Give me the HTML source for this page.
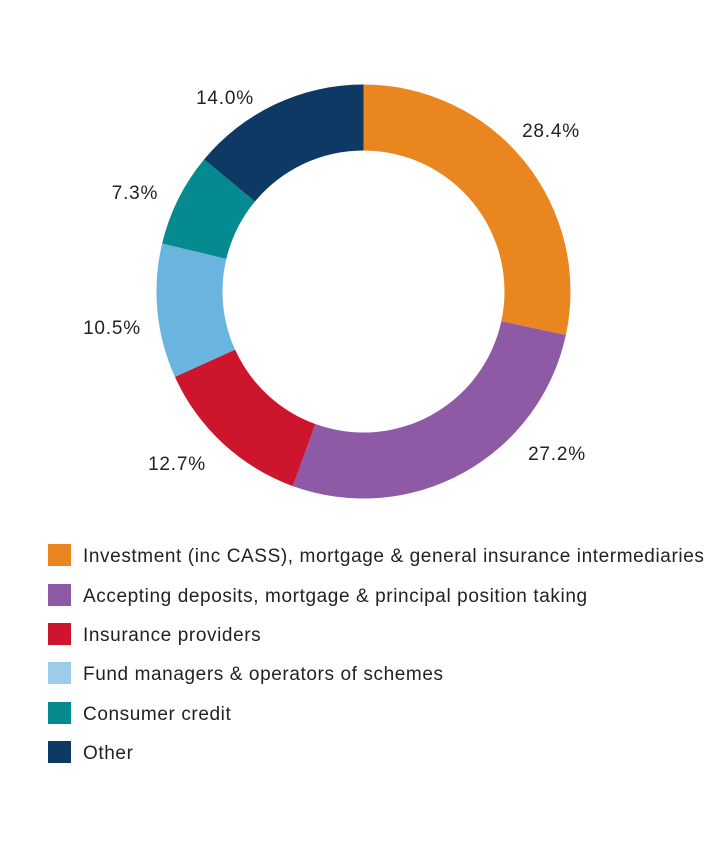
<!DOCTYPE html>
<html><head><style>
body{margin:0;background:#fff;width:726px;height:864px;overflow:hidden;font-family:"Liberation Sans",sans-serif;}
.lg{position:absolute;left:48px;font-size:19px;color:#222;}
.lg span{position:absolute;left:0;top:0;width:23px;height:22px;}
.lg b{font-weight:normal;position:absolute;left:35px;top:2px;white-space:nowrap;line-height:22px;letter-spacing:0.6px;}
</style></head><body>
<svg id="s" width="726" height="864" style="position:absolute;left:0;top:0">
<g font-family="Liberation Sans, sans-serif" font-size="19" fill="#222" text-anchor="middle" letter-spacing="0.8">
<text x="551" y="137">28.4%</text>
<text x="557" y="460">27.2%</text>
<text x="177" y="470">12.7%</text>
<text x="112" y="334">10.5%</text>
<text x="135" y="199">7.3%</text>
<text x="225" y="104">14.0%</text>
</g>
</svg>
<div class="lg" style="top:544px"><span style="background:#ea861f"></span><b>Investment (inc CASS), mortgage &amp; general insurance intermediaries</b></div>
<div class="lg" style="top:584px"><span style="background:#8e59a5"></span><b>Accepting deposits, mortgage &amp; principal position taking</b></div>
<div class="lg" style="top:623px"><span style="background:#cd152e"></span><b>Insurance providers</b></div>
<div class="lg" style="top:662px"><span style="background:#9dcbea"></span><b>Fund managers &amp; operators of schemes</b></div>
<div class="lg" style="top:702px"><span style="background:#058a90"></span><b>Consumer credit</b></div>
<div class="lg" style="top:741px"><span style="background:#0d3964"></span><b>Other</b></div>
<script>
var cx=363.5,cy=291.5,R=207,r=141;
var d=[[28.4,"#ea861f"],[27.2,"#8e59a5"],[12.7,"#cd152e"],[10.5,"#69b5e0"],[7.3,"#058a90"],[14.0,"#0d3964"]];
var tot=100.1,a=0,s=document.getElementById('s'),h='';
function p(ang,rad){var t=ang/tot*2*Math.PI;return [cx+rad*Math.sin(t),cy-rad*Math.cos(t)];}
d.forEach(function(x){var b=a+x[0];var l=x[0]/tot>0.5?1:0;
var p1=p(a,R),p2=p(b,R),p3=p(b,r),p4=p(a,r);
h+='<path fill="'+x[1]+'" d="M'+p1+' A'+R+','+R+' 0 '+l+' 1 '+p2+' L'+p3+' A'+r+','+r+' 0 '+l+' 0 '+p4+'Z"/>';a=b;});
s.insertAdjacentHTML('afterbegin',h);
</script>
</body></html>
